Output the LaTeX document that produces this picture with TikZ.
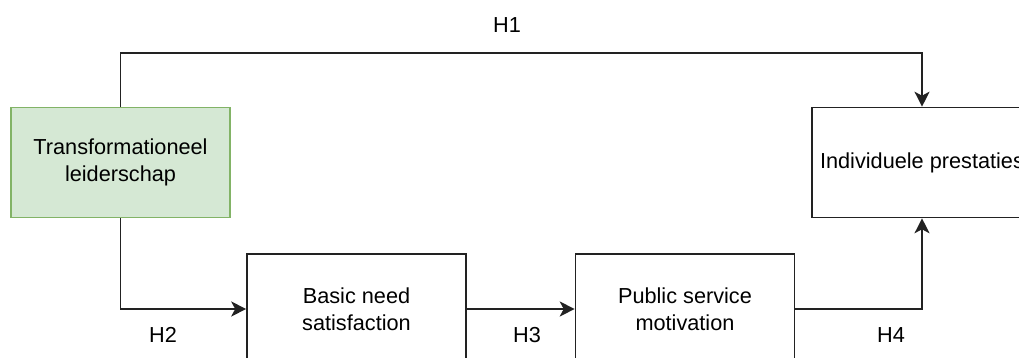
\documentclass[tikz,border=0pt]{standalone}
\usepackage{fontspec}
\setmainfont{Liberation Sans}
\usetikzlibrary{arrows.meta}
\definecolor{boxgreen}{HTML}{D5E8D4}
\definecolor{boxgreenline}{HTML}{82B366}
\definecolor{ink}{HTML}{222222}
\tikzset{
  blockbox/.style={draw=ink, line width=1.6pt, minimum width=219pt, minimum height=110pt, align=center, inner sep=0pt, font=\fontsize{21.7}{26.5}\selectfont, text=black},
  greenbox/.style={blockbox, fill=boxgreen, draw=boxgreenline},
  conn/.style={draw=ink, line width=1.6pt, -{Stealth[length=15pt,width=15pt,inset=4pt]}},
  hlabel/.style={font=\fontsize{21.7}{26.5}\selectfont, inner sep=0pt, text=black}
}
\begin{document}
\begin{tikzpicture}[x=1pt,y=-1pt]
\useasboundingbox (0,0) rectangle (1019,358);
\clip (0,0) rectangle (1019,358);
\node[greenbox] (tl) at (120.5,162.5) {Transformationeel\\leiderschap};
\node[blockbox, minimum width=220pt] (ip) at (922,162.5) {Individuele prestaties};
\node[blockbox] (bns) at (356.5,309) {Basic need\\satisfaction};
\node[blockbox] (psm) at (685,309) {Public service\\motivation};
\draw[conn] (tl.north) -- (120.5,53) -| (ip.north);
\draw[conn] (tl.south) |- (bns.west);
\draw[conn] (bns.east) -- (psm.west);
\draw[conn] (psm.east) -| (ip.south);
\node[hlabel] (h1) at (507,25) {H1};
\node[hlabel] (h2) at (163,335) {H2};
\node[hlabel] (h3) at (527,335) {H3};
\node[hlabel] (h4) at (891,335) {H4};
\end{tikzpicture}
\end{document}
